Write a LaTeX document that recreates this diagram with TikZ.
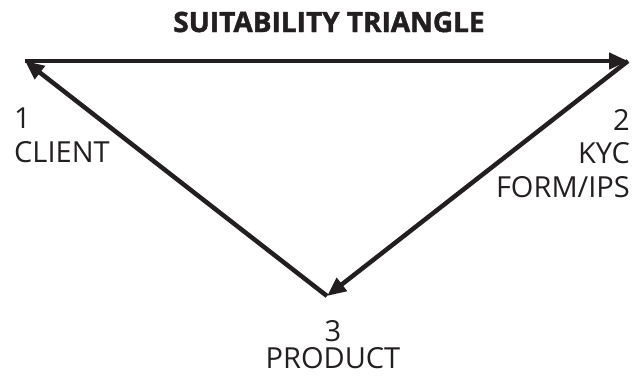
\documentclass[tikz,border=0pt]{standalone}
\usepackage{fontspec}
\setmainfont{Open Sans}
\newfontfamily\ttlfont[BoldFeatures={FakeBold=1.6}]{Open Sans}
\usetikzlibrary{arrows.meta}
\begin{document}
\begin{tikzpicture}[x=1pt,y=-1pt,
  conn/.style={line width=4.5pt,-{Triangle[length=19pt,width=16pt]},draw={rgb,255:red,35;green,31;blue,32}},
  lbl/.style={font=\fontsize{29}{32}\selectfont,text={rgb,255:red,35;green,31;blue,32},inner sep=0pt,align=center},
  ttl/.style={font=\ttlfont\fontsize{28}{32}\bfseries\selectfont,text={rgb,255:red,35;green,31;blue,32},inner sep=0pt}]
\useasboundingbox (0,0) rectangle (641,376);
\coordinate (A) at (25,61);
\coordinate (B) at (628,61);
\coordinate (C) at (327,296);
\node[ttl] (t) at (329,22) {SUITABILITY TRIANGLE};
\draw[conn] (A) -- (B);
\draw[conn] (B) -- (C);
\draw[conn] (C) -- (A);
\node[lbl,anchor=west] (n1) at (14,118) {1};
\node[lbl,anchor=west] (c1) at (14,152) {CLIENT};
\node[lbl,anchor=east] (n2) at (630,120) {2};
\node[lbl,anchor=east] (c2) at (630,153) {KYC};
\node[lbl,anchor=east] (c3) at (630,187) {FORM/IPS};
\node[lbl] (n3) at (333,331) {3};
\node[lbl] (c4) at (333,358) {PRODUCT};
\end{tikzpicture}
\end{document}
